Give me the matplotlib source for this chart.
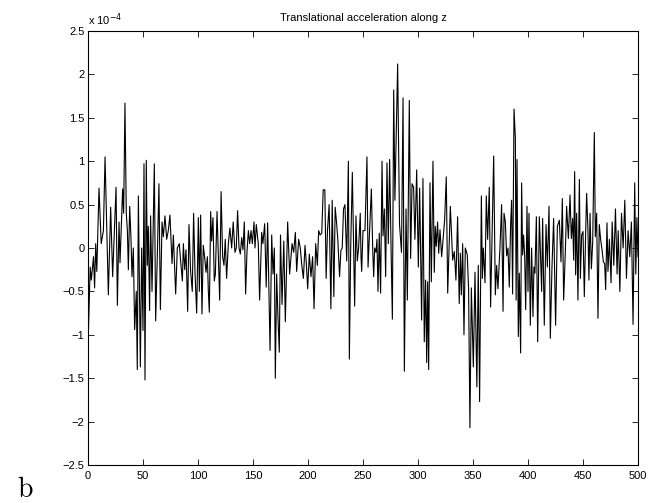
"""Translational acceleration along z -- single-trace time series, MATLAB-style axes."""

import matplotlib
matplotlib.use("Agg")
import matplotlib.pyplot as plt

# sample index
SAMPLE_X = [
    0, 2, 3, 5, 6, 7, 8, 10, 12, 14, 15.5, 18.5, 20.6, 22.4, 24, 25.5, 26.7, 28.2, 29.1, 30,
    31.5, 32.4, 33.6, 34.8, 35.8, 36.7, 37.9, 39.1, 40, 41.2, 42.4, 43.9, 44.8, 45.8, 47.6, 48.8,
    50, 50.9, 51.8, 53, 53.9, 54.8, 56, 56.9, 58.2,
    60.3, 61.5, 63, 64.5, 65.8, 67.3, 68.5, 70, 71.5, 73, 74.5, 76.4, 77.6, 79.7, 81.2, 83, 84.2,
    85.8, 86.7, 87.9, 89.1, 90.6, 91.8, 93.3, 94.8, 96, 97.3, 98.8, 100.3, 101.2, 102.4, 103.6,
    104.8, 106, 107.3, 108.5, 109.4, 110.3, 111.5, 112.4, 113.6, 114.8, 115.8, 117.3,
    119.7, 121, 122.4, 123.6, 124.8, 126, 127.6, 129, 130.6, 132, 133.6, 134.8, 136, 137.3, 138.5,
    139.7, 140.9, 142.1, 143.3, 144.5, 145.8, 147, 148.2, 149.4, 150.9, 151.8, 153, 154.8, 156,
    157.9, 159, 160.6, 162, 163.3, 164.5, 165.5, 167, 168.2, 169.4, 170.3, 171.5, 172.7, 173.9,
    175, 176.4,
    178, 179.4, 181.5, 183.3, 185.5, 187, 188.5, 189.7, 191.5, 193, 194.2, 195.8, 197.3, 198.5,
    199.7, 201.2, 202.7, 204.2, 205.5, 207, 208.5, 209.7, 211, 212.5, 213.8, 215.3, 216.5, 217.7,
    219.2, 220.8, 222, 223.5, 224.7, 225.9, 227.1, 228.7, 229.9, 231.1, 232.3,
    233.6, 235.2, 236.7, 237.6, 238.8, 240.3, 241.2, 242.4, 243.6, 244.8, 246, 247.5, 248.2,
    248.8, 250, 251.8, 253.6, 254.6, 256, 257.6, 258.8, 259.7, 260.6, 261.8, 262.7, 263.6, 264.8,
    266, 267.3, 268.2, 269.4, 270.6, 271.8, 273, 274.2, 275.5, 276.7, 277.9, 279, 281.5, 283.2,
    285, 286.4, 287.6, 289.1, 290.3, 292.1, 293.3, 294.6,
    296, 297.2, 298.8, 300.3, 301.5, 303.3, 304.5, 305.7, 306.9, 307.9, 308.8, 309.7, 310.9,
    312.1, 313.6, 314.8, 315.7, 316.6, 317.8, 318.8, 320, 321.5, 322.7, 324.2, 325.7, 327, 329.4,
    331.5, 333, 334.5, 336, 337.5, 338.5, 339.4, 340.6, 341.8, 343, 344.8, 346, 347.2, 348.5,
    350.3, 351.8, 353.5, 354.8, 356,
    357.6, 358.5, 359.4, 360.9, 362.1, 363.3, 364.8, 366, 367.6, 368.8, 370.3, 371.5, 372.7,
    374.5, 376, 377.3, 378.2, 379.4, 380.6, 381.8, 383, 384.2, 385.1, 386, 387.3, 388.5, 389.2,
    390, 391.2, 392.1, 393.3, 394.2, 395.1, 396, 397, 397.9, 399.1, 400, 400.9, 402.1, 403.3,
    404.5, 405.4, 406.3, 407.6, 408.8, 410.3, 411.5, 412.4,
    413.3, 414.8, 416.4, 417.6, 419.1, 420.3, 421.8, 423.3, 425.1, 426.7, 428.5, 430, 431.2,
    432.4, 433.9, 435.1, 436.7, 438.2, 439.4, 440.6, 441.5, 442.4, 443.3, 444.2, 445.4, 446.7,
    447.6, 448.8, 450, 451.2, 452.4, 453.3, 454.5, 455.4, 456.4, 457.6, 458.8, 460.3, 461.2,
    462.4, 463.6, 464.8, 466.1, 467.3, 468.5, 469.7, 470.6, 471.8, 472.7,
    474, 475.5, 476.5, 478, 479.5, 481, 482, 483.5, 485, 486.5, 488, 489.5, 491, 492.5, 494,
    495.5, 497, 498, 499, 500,
]

# acceleration, units of 1e-4
ACCEL_Z = [
    -1.14, -0.22, -0.37, -0.10, -0.46, 0.05, -0.27, 0.69, 0.05, 0.20, 1.05, -0.54, 0.47, -0.33,
    0.20, 0.70, -0.66, 0.30, -0.17, 0.15,
    0.68, 0.40, 1.67, 0.40, 0.20, -0.25, 0.48, 0.10, -0.33, 0.00, -0.94, -0.50, -1.40, 0.60,
    -1.37, 0.00,
    -0.95, 0.97, -1.52, 1.01, -0.20, 0.25, -0.72, 0.37, -0.50,
    0.97, -0.84, -0.10, 0.74, -0.71, 0.30, 0.13, 0.37, 0.10, 0.20, 0.38, -0.18, 0.15, -0.53,
    0.00, 0.05, -0.15,
    -0.38, 0.05, -0.25, -0.02, -0.73, 0.27, -0.27, -0.50, 0.40, -0.30, -0.75, 0.35, -0.50, 0.38,
    -0.76,
    0.03, -0.10, -0.28, -0.10, -0.50, -0.74, 0.42, 0.08, 0.35, -0.38, -0.30, 0.42,
    -0.60, 0.65, -0.10, -0.20, 0.10, -0.35, 0.05, 0.23, 0.00, 0.30, -0.05, 0.00, 0.43, 0.00,
    -0.07,
    0.12, -0.02, 0.30, -0.53, -0.05, 0.20, 0.05, 0.20, 0.05, 0.30, 0.00, 0.27, 0.05, -0.60,
    0.18, 0.05, 0.28, -0.45, 0.29, -0.50, -1.18, 0.15, -0.30, 0.00, -1.50, -0.30, -0.80, -1.20,
    0.15, -0.65,
    0.08, -0.85, 0.30, -0.30, 0.05, -0.05, 0.18, -0.27, 0.10, 0.00, -0.18, -0.35, 0.03, -0.18,
    -0.47, -0.07, -0.33, -0.10, -0.70, 0.05, -0.20, 0.20, 0.15, 0.17, 0.67, 0.67, -0.35, 0.20,
    0.50, -0.70, 0.55, -0.56, 0.47, 0.30, 0.10, -0.33, -0.03, 0.00, 0.45,
    0.50, -0.15, 1.00, -1.28, 0.00, 0.87, 0.20, -0.67, 0.37, -0.15, 0.00, 0.40, -0.10,
    -0.27, 0.20, 0.20, 1.05, -0.22, 0.20, 0.68, 0.00, -0.33, 0.00, -0.05, 0.10, -0.50, 0.17,
    -0.52, 1.00, 0.14, 0.45, -0.33, 0.98, 0.05, 1.02, 0.00, -0.82, 1.82, 0.55, 2.12, 0.27,
    -0.05, 1.73, -1.42, 0.45, -0.60, 1.70, -0.12, 0.74,
    0.70, 0.10, 0.90, -0.22, 0.69, -0.83, 0.80, -1.08, -0.37, -1.32, -0.39, -1.40, 0.75,
    -0.39, 1.00, -0.28, 0.25, 0.02, 0.30, -0.06, 0.21, -0.10, 0.09, 0.32, 0.82, -0.52, 0.48,
    -0.14, -0.04, -0.37, 0.36, -0.64, -0.06, -0.54, 0.05, -1.00, 0.00, -0.08, -0.48, -2.07, -0.46,
    -1.37, -0.28, -1.60, -0.20, -1.77,
    0.60, -0.35, 0.00, -0.40, 0.60, 0.10, 0.70, -0.68, 0.30, 1.06, -0.54, -0.20, -0.47,
    0.00, 0.50, -0.73, 0.40, 0.30, -0.09, 0.00, -0.45, 0.27, 0.55, -0.53, 1.60, 1.27, -0.60,
    1.02, -1.02, -0.29, -1.21, 0.75, -0.08, 0.15, -0.10, -0.71, 0.48, -0.50, 0.40, -0.89, 0.00,
    -0.79, -0.22, -0.29, 0.36, -1.08, 0.36, -0.15, -0.50,
    0.34, -0.89, 0.27, -0.22, 0.48, -1.04, -0.22, 0.34, -0.89, 0.25, 0.32, -0.16, 0.57,
    -0.60, -0.06, 0.48, 0.11, 0.61, 0.11, 0.34, -0.14, 0.88, -0.31, 0.40, -0.60, 0.79,
    -0.35, 0.15, 0.19, -0.56, 0.17, 0.63, 0.21, -0.37, 0.40, -0.24, 0.07, 1.33, 0.13,
    0.40, -0.81, 0.27, 0.09, -0.02, -0.16, -0.18, -0.48, 0.29, -0.27,
    0.10, -0.40, 0.30, -0.20, 0.45, -0.30, 0.20, -0.50, 0.40, 0.00, 0.55, -0.35, 0.20, -0.10, 0.30,
    -0.88, 0.75, -0.30, 0.35, -0.10,
]

X_TICKS = [0, 50, 100, 150, 200, 250, 300, 350, 400, 450, 500]
Y_TICKS = [-2.5, -2, -1.5, -1, -0.5, 0, 0.5, 1, 1.5, 2, 2.5]
Y_TICK_LABELS = ["\u22122.5", "\u22122", "\u22121.5", "\u22121", "\u22120.5", "0",
                 "0.5", "1", "1.5", "2", "2.5"]
TITLE = "Translational acceleration along z"

plt.rcParams["font.family"] = ["Liberation Sans", "DejaVu Sans"]

fig = plt.figure(figsize=(6.65, 5.03), dpi=100)
ax = fig.add_axes([88 / 665, 38 / 503, 550 / 665, 434 / 503])

ax.plot(SAMPLE_X, ACCEL_Z, color="black", linewidth=0.8)

ax.set_xlim(0, 500)
ax.set_ylim(-2.5, 2.5)
ax.set_xticks(X_TICKS)
ax.set_yticks(Y_TICKS)
ax.set_yticklabels(Y_TICK_LABELS)
ax.tick_params(direction="in", length=4, width=0.6, labelsize=8,
               top=True, right=True)
ax.tick_params(axis="y", pad=2.5)
ax.tick_params(axis="x", pad=4)
for spine in ax.spines.values():
    spine.set_linewidth(0.8)

ax.set_title(TITLE, fontsize=8, pad=7)
ax.text(0.0, 1.008, r"x 10$^{-4}$", transform=ax.transAxes, fontsize=8,
        ha="left", va="bottom")
fig.text(17 / 665, 6 / 503, "b", fontfamily="cmr10", fontsize=20,
         ha="left", va="baseline")

fig.savefig("out.png", dpi=100)
